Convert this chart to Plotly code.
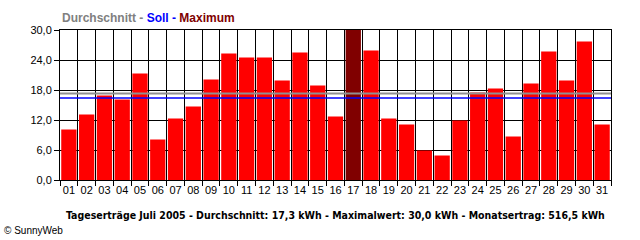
import plotly.graph_objects as go

days = [f"{d:02d}" for d in range(1, 32)]
values = [10.1, 13.1, 16.9, 16.1, 21.3, 8.1, 12.3, 14.7, 20.1, 25.3,
          24.5, 24.5, 19.9, 25.5, 18.9, 12.7, 30.0, 25.9, 12.3, 11.1,
          5.9, 4.9, 11.9, 17.5, 18.3, 8.7, 19.3, 25.7, 19.9, 27.7, 11.1]
average = 17.3
target = 16.4
y_ticks = [0, 6, 12, 18, 24, 30]
y_tick_labels = ["0,0", "6,0", "12,0", "18,0", "24,0", "30,0"]

vmax = max(values)
colors = ["#800000" if v == vmax else "#FF0000" for v in values]

fig = go.Figure()
fig.add_trace(go.Bar(x=days, y=values, marker=dict(color=colors, line=dict(width=0)),
                     hoverinfo="x+y"))

fig.add_shape(type="line", xref="paper", x0=0, x1=1, yref="y", y0=average, y1=average,
              line=dict(color="#909090", width=2), layer="above")
fig.add_shape(type="line", xref="paper", x0=0, x1=1, yref="y", y0=target, y1=target,
              line=dict(color="#0000FF", width=1.5), layer="above")

font_main = "DejaVu Sans Condensed, Liberation Sans, Arial, sans-serif"
font_tick = "Liberation Sans, Arial, sans-serif"

fig.update_layout(
    width=640, height=240,
    margin=dict(l=60, r=29, t=30, b=60),
    paper_bgcolor="white", plot_bgcolor="white",
    bargap=0.14,
    showlegend=False,
    font=dict(family=font_tick, size=11, color="black"),
    xaxis=dict(type="category", tickson="boundaries", showgrid=True, gridcolor="black",
               gridwidth=1, showline=True, linecolor="black", linewidth=1, mirror=True,
               ticks="outside", ticklen=5, tickcolor="black", tickfont=dict(size=11),
               tickangle=0),
    yaxis=dict(range=[0, 30], tickvals=y_ticks, ticktext=y_tick_labels, showgrid=True,
               gridcolor="black", gridwidth=1, showline=True, linecolor="black",
               linewidth=1, mirror=True, ticks="outside", ticklen=5, tickcolor="black",
               zeroline=False, tickfont=dict(size=11)),
    annotations=[
        dict(xref="paper", yref="paper", x=0, y=1, xanchor="left", yanchor="bottom",
             yshift=3, showarrow=False,
             text="<b><span style='color:#808080'>Durchschnitt - </span>"
                  "<span style='color:#0000FF'>Soll - </span>"
                  "<span style='color:#800000'>Maximum</span></b>",
             font=dict(family="Liberation Sans, Arial, sans-serif", size=12)),
        dict(xref="paper", yref="paper", x=0.5, y=0, yanchor="middle", xanchor="center",
             yshift=-35, showarrow=False,
             text="<b>Tageserträge Juli 2005 - Durchschnitt: 17,3 kWh - Maximalwert: 30,0 kWh - Monatsertrag: 516,5 kWh</b>",
             font=dict(family=font_main, size=10.5)),
        dict(xref="paper", yref="paper", x=0, y=0, xanchor="left", yanchor="middle",
             xshift=-58, yshift=-50, showarrow=False,
             text="© SunnyWeb", font=dict(family=font_tick, size=10)),
    ],
)

fig.write_html("out.html")
